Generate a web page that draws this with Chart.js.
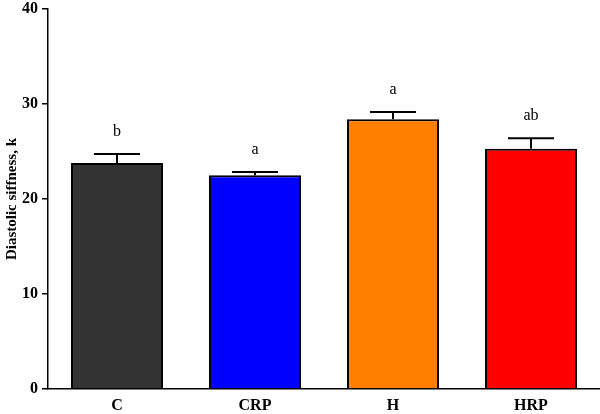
<!DOCTYPE html>
<html>
<head>
<meta charset="utf-8">
<script src="https://cdn.jsdelivr.net/npm/chart.js@4/dist/chart.umd.min.js"></script>
<style>
  html, body { margin: 0; padding: 0; background: #fff; }
  #wrap { width: 600px; height: 414px; }
</style>
</head>
<body>
<div id="wrap"><canvas id="chart" width="600" height="414"></canvas></div>
<script>
const groups = ['C', 'CRP', 'H', 'HRP'];
const means = [23.8, 22.5, 28.4, 25.3];
const sem = [0.95, 0.35, 0.75, 1.1];
const letters = ['b', 'a', 'a', 'ab'];
const barColors = ['#333333', '#0000ff', '#ff8000', '#ff0000'];
const yTicks = [0, 10, 20, 30, 40];

// error bars (upper only) and significance letters
const errorBars = {
    id: 'errorBars',
    afterDatasetsDraw(chart) {
        const { ctx, scales: { y } } = chart;
        const meta = chart.getDatasetMeta(0);
        ctx.save();
        ctx.strokeStyle = '#000';
        ctx.lineWidth = 2;
        meta.data.forEach((bar, i) => {
            const top = y.getPixelForValue(means[i]);
            const cap = y.getPixelForValue(means[i] + sem[i]);
            const half = bar.width / 4;
            ctx.beginPath();
            ctx.moveTo(bar.x, top);
            ctx.lineTo(bar.x, cap);
            ctx.moveTo(bar.x - half, cap);
            ctx.lineTo(bar.x + half, cap);
            ctx.stroke();
            ctx.fillStyle = '#000';
            ctx.font = '16px "Liberation Serif", serif';
            ctx.textAlign = 'center';
            ctx.textBaseline = 'alphabetic';
            ctx.fillText(letters[i], bar.x, cap - 18);
        });
        ctx.restore();
    }
};

new Chart(document.getElementById('chart').getContext('2d'), {
    type: 'bar',
    data: {
        labels: groups,
        datasets: [{
            data: means,
            backgroundColor: barColors,
            borderColor: '#000',
            borderWidth: 2,
            barPercentage: 0.667,
            categoryPercentage: 1
        }]
    },
    options: {
        responsive: false,
        animation: false,
        layout: { padding: { top: 0, right: 0, left: 0, bottom: 0 } },
        plugins: { legend: { display: false }, tooltip: { enabled: false } },
        scales: {
            x: {
                grid: { display: false, drawTicks: false },
                border: { display: true, color: '#000', width: 1.5 },
                ticks: {
                    color: '#000',
                    padding: 7,
                    font: { family: '"Liberation Serif", serif', size: 16, weight: 'bold' }
                },
                afterFit(scale) { scale.height = 25; }
            },
            y: {
                min: 0,
                max: 40,
                afterBuildTicks(scale) { scale.ticks = yTicks.map(v => ({ value: v })); },
                grid: { drawOnChartArea: false, drawTicks: true, tickLength: 6, color: '#000', lineWidth: 1.5 },
                border: { display: true, color: '#000', width: 1.5 },
                ticks: {
                    color: '#000',
                    padding: 4,
                    font: { family: '"Liberation Serif", serif', size: 16, weight: 'bold' }
                },
                title: {
                    display: true,
                    text: 'Diastolic siffness, k',
                    color: '#000',
                    padding: { top: 3, bottom: 0 },
                    font: { family: '"Liberation Serif", serif', size: 15, weight: 'bold' }
                },
                afterFit(scale) {
                    scale.width = 48;
                    scale.paddingTop = 9;
                    scale.paddingBottom = 0;
                }
            }
        }
    },
    plugins: [errorBars]
});
</script>
</body>
</html>
